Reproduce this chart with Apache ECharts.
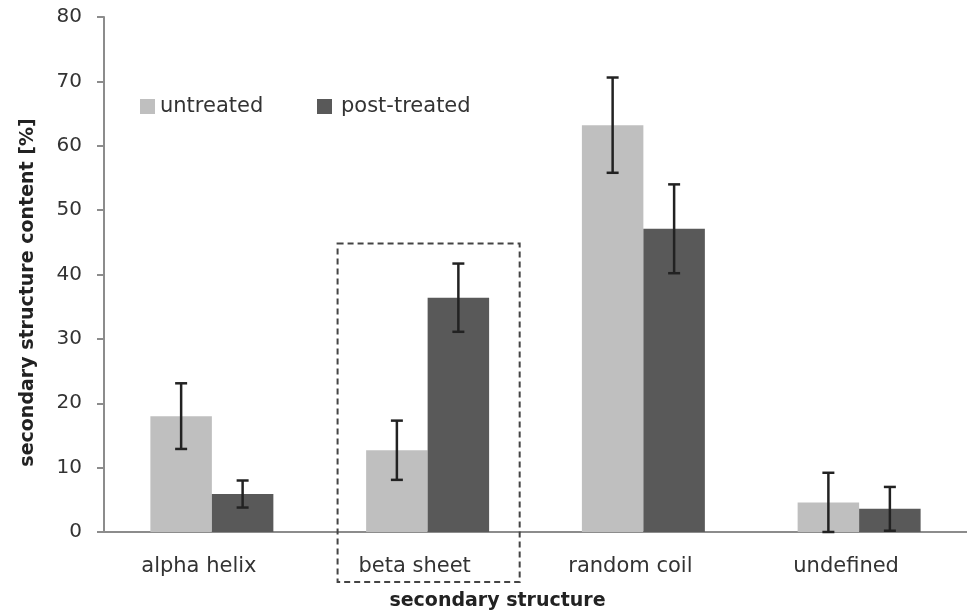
<!DOCTYPE html>
<html>
<head>
<meta charset="utf-8">
<script src="https://cdn.jsdelivr.net/npm/echarts@6/dist/echarts.min.js"></script>
<style>
  html, body { margin: 0; padding: 0; background: #fff; }
  #chart { width: 967px; height: 612px; }
</style>
</head>
<body>
<div id="chart"></div>
<script>
// Secondary structure content before and after treatment
const categories = ['alpha helix', 'beta sheet', 'random coil', 'undefined'];
const untreated = [18.0, 12.7, 63.2, 4.6];
const untreatedErr = [5.1, 4.6, 7.4, 4.6];
const postTreated = [5.9, 36.4, 47.1, 3.6];
const postTreatedErr = [2.1, 5.3, 6.9, 3.4];
const yTicks = { min: 0, max: 80, interval: 10 };
// highlighted category and the value the box reaches up to
const highlightCategory = 'beta sheet';
const highlightTop = 44.8;

const gapFraction = 0.43;
const lightGray = '#bfbfbf';
const darkGray = '#595959';
const axisGray = '#8c8c8c';
const textColor = '#333';
const fontFamily = '"DejaVu Sans", sans-serif';

const chart = echarts.init(document.getElementById('chart'));

function errorBarRenderer(side) {
  return function (params, api) {
    const idx = api.value(0);
    const val = api.value(1);
    const err = api.value(2);
    const band = api.size([1, 0])[0];
    const barW = band * (1 - gapFraction) / 2;
    const center = api.coord([idx, val]);
    const x = center[0] + side * barW / 2;
    const top = api.coord([idx, val + err])[1];
    const bottom = api.coord([idx, Math.max(val - err, 0)])[1];
    const cap = 6;
    const style = { stroke: '#222', lineWidth: 2.5 };
    return {
      type: 'group',
      children: [
        { type: 'line', shape: { x1: x, y1: top, x2: x, y2: bottom }, style },
        { type: 'line', shape: { x1: x - cap, y1: top, x2: x + cap, y2: top }, style },
        { type: 'line', shape: { x1: x - cap, y1: bottom, x2: x + cap, y2: bottom }, style }
      ]
    };
  };
}

function highlightBox(params, api) {
  const idx = api.value(0);
  const band = api.size([1, 0])[0];
  const c = api.coord([idx, api.value(1)]);
  const half = band * 0.422;
  const zeroY = api.coord([idx, 0])[1];
  return {
    type: 'rect',
    shape: { x: c[0] - half + 1, y: c[1], width: half * 2, height: zeroY - c[1] + 50 },
    style: { fill: 'none', stroke: '#444', lineWidth: 2, lineDash: [6, 4] }
  };
}

const legendText = { fontSize: 21, color: textColor, fontFamily };

chart.setOption({
  animation: false,
  backgroundColor: '#fff',
  grid: { left: 104, right: 0, top: 17, bottom: 80, outerBoundsMode: 'none', containLabel: false },
  legend: [
    {
      left: 135,
      top: 91,
      itemWidth: 15,
      itemHeight: 15,
      textStyle: legendText,
      data: [{ name: 'untreated', icon: 'rect' }]
    },
    {
      left: 312,
      top: 91,
      itemWidth: 15,
      itemHeight: 15,
      textStyle: Object.assign({ padding: [0, 0, 0, 4] }, legendText),
      data: [{ name: 'post-treated', icon: 'rect' }]
    }
  ],
  xAxis: {
    type: 'category',
    data: categories,
    name: 'secondary structure',
    nameLocation: 'middle',
    nameGap: 60,
    nameTextStyle: { fontSize: 19, fontWeight: 'bold', color: '#222', fontFamily, padding: [0, 76, 0, 0] },
    axisLine: { lineStyle: { color: axisGray, width: 2 } },
    axisTick: { show: false },
    axisLabel: { fontSize: 21, color: textColor, margin: 24, fontFamily, padding: [0, 26, 0, 0] },
    splitLine: { show: false }
  },
  yAxis: {
    type: 'value',
    min: yTicks.min,
    max: yTicks.max,
    interval: yTicks.interval,
    name: 'secondary structure content [%]',
    nameLocation: 'middle',
    nameGap: 66,
    nameTextStyle: { fontSize: 19, fontWeight: 'bold', color: '#222', fontFamily, padding: [0, 36, 0, 0] },
    axisLine: { show: true, lineStyle: { color: axisGray, width: 2 } },
    axisTick: { show: true, length: 7, lineStyle: { color: axisGray, width: 2 } },
    axisLabel: { fontSize: 20, color: textColor, margin: 22, fontFamily },
    splitLine: { show: false }
  },
  series: [
    {
      name: 'untreated',
      type: 'bar',
      data: untreated,
      barGap: '0%',
      barCategoryGap: (gapFraction * 100) + '%',
      itemStyle: { color: lightGray }
    },
    {
      name: 'post-treated',
      type: 'bar',
      data: postTreated,
      barGap: '0%',
      barCategoryGap: (gapFraction * 100) + '%',
      itemStyle: { color: darkGray }
    },
    {
      type: 'custom',
      renderItem: errorBarRenderer(-1),
      data: untreated.map((v, i) => [i, v, untreatedErr[i]]),
      z: 10,
      silent: true
    },
    {
      type: 'custom',
      renderItem: errorBarRenderer(1),
      data: postTreated.map((v, i) => [i, v, postTreatedErr[i]]),
      z: 10,
      silent: true
    },
    {
      type: 'custom',
      renderItem: highlightBox,
      clip: false,
      data: [[categories.indexOf(highlightCategory), highlightTop]],
      z: 11,
      silent: true
    }
  ]
});
</script>
</body>
</html>
